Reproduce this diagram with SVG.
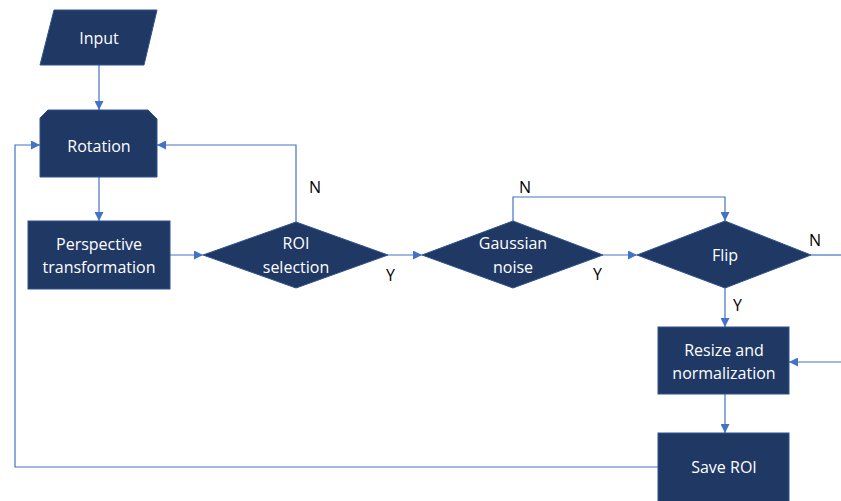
<svg xmlns="http://www.w3.org/2000/svg" width="841" height="501" viewBox="0 0 841 501">
<defs>
<style>
.n{fill:#203864;stroke:#2F528F;stroke-width:1}
.t{fill:#fff;font-family:"Open Sans","Liberation Sans",sans-serif;font-size:16px;text-anchor:middle}
.l{fill:#000;font-family:"Open Sans","Liberation Sans",sans-serif;font-size:16px}
.c{fill:none;stroke:#4472C4;stroke-width:1.2}
</style>
<marker id="a" viewBox="0 0 10 10" refX="10" refY="5" markerWidth="9" markerHeight="9" markerUnits="userSpaceOnUse" orient="auto">
<path d="M0,0 L10,5 L0,10 z" fill="#4472C4"/>
</marker>
</defs>
<rect width="841" height="501" fill="#fff"/>
<g id="connectors">
<path class="c" d="M99,65 V110" marker-end="url(#a)"/>
<path class="c" d="M99,177 V221" marker-end="url(#a)"/>
<path class="c" d="M170,255 H203" marker-end="url(#a)"/>
<path class="c" d="M296,222 V145 H157" marker-end="url(#a)"/>
<path class="c" d="M388,255 H422" marker-end="url(#a)"/>
<path class="c" d="M513,221 V197 H725 V221" marker-end="url(#a)"/>
<path class="c" d="M603,255 H637" marker-end="url(#a)"/>
<path class="c" d="M811,255 H841"/>
<path class="c" d="M725,288 V327" marker-end="url(#a)"/>
<path class="c" d="M841,362 H789" marker-end="url(#a)"/>
<path class="c" d="M725,394 V433" marker-end="url(#a)"/>
<path class="c" d="M658,467 H15 V145 H40" marker-end="url(#a)"/>
</g>
<g id="input">
<polygon class="n" points="54,10 157,10 144,65 40,65"/>
<text class="t" x="99" y="44">Input</text>
</g>
<g id="rotation">
<polygon class="n" points="48,110 148,110 157,119 157,177 40,177 40,118"/>
<text class="t" x="99" y="152">Rotation</text>
</g>
<g id="perspective">
<rect class="n" x="28" y="221" width="142" height="68"/>
<text class="t" x="99" y="250">Perspective</text>
<text class="t" x="99" y="273">transformation</text>
</g>
<g id="roi">
<polygon class="n" points="296,222 388,255 296,288 203,255"/>
<text class="t" x="296" y="249">ROI</text>
<text class="t" x="296" y="273">selection</text>
</g>
<g id="gaussian">
<polygon class="n" points="513,221 603,255 513,288 422,255"/>
<text class="t" x="513" y="249">Gaussian</text>
<text class="t" x="513" y="273">noise</text>
</g>
<g id="flip">
<polygon class="n" points="725,221 811,255 725,288 637,255"/>
<text class="t" x="725" y="261">Flip</text>
</g>
<g id="resize">
<rect class="n" x="658" y="327" width="131" height="67"/>
<text class="t" x="724" y="356">Resize and</text>
<text class="t" x="724" y="379">normalization</text>
</g>
<g id="save">
<rect class="n" x="658" y="433" width="131" height="72"/>
<text class="t" x="724" y="473">Save ROI</text>
</g>
<g id="labels">
<text class="l" x="309" y="193">N</text>
<text class="l" x="386" y="281">Y</text>
<text class="l" x="519" y="193">N</text>
<text class="l" x="593" y="280">Y</text>
<text class="l" x="809" y="246">N</text>
<text class="l" x="733" y="311">Y</text>
</g>
</svg>
